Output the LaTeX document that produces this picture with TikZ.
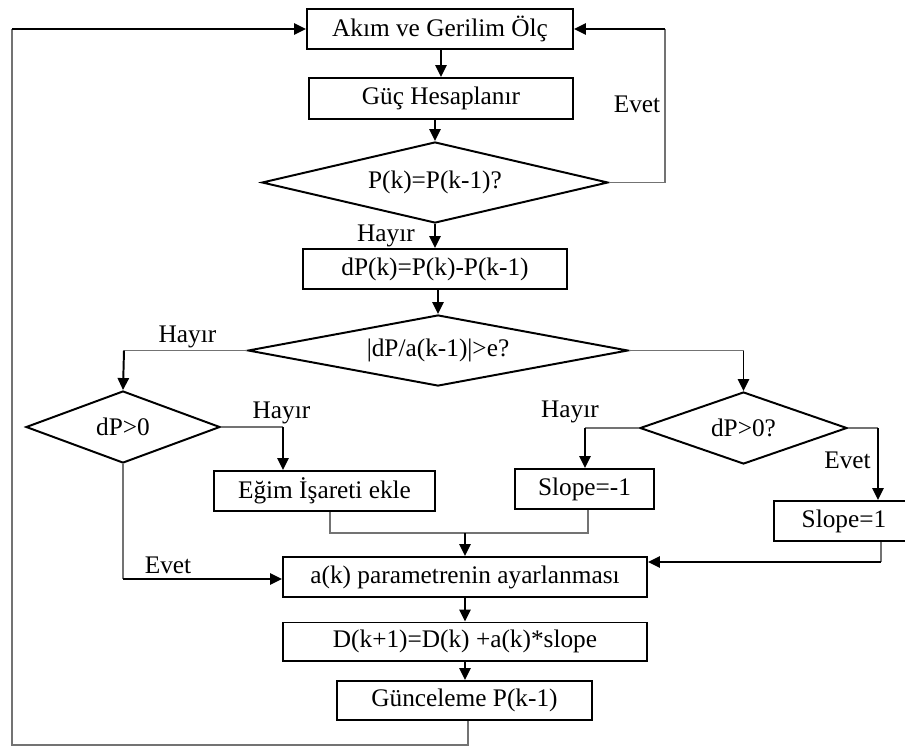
\documentclass[tikz,border=0pt]{standalone}
\usepackage{fontspec}
\setmainfont{Liberation Serif}
\usetikzlibrary{shapes.geometric,arrows.meta}
\newcommand{\flowfont}{\fontsize{18}{20}\selectfont}
\tikzset{
  box/.style={draw, line width=1.4pt, inner sep=0pt, font=\flowfont},
  dia/.style={draw, diamond, line width=1.4pt, inner sep=0pt, font=\flowfont},
  link/.style={draw=black!55, line width=0.8pt},
  arr/.style={draw=black, line width=1.4pt, -{Triangle[length=8.5pt,width=8pt]}},
  lbl/.style={anchor=base, inner sep=0pt, font=\flowfont}
}
\begin{document}
\begin{tikzpicture}[x=0.025cm, y=-0.025cm]
\useasboundingbox (0,0) rectangle (905,751);

% process boxes
\node[box, minimum width=6.65cm, minimum height=1cm]    (b1) at (440,29)    {Akım ve Gerilim Ölç};
\node[box, minimum width=6.6cm,  minimum height=1.025cm](b2) at (441,98.5)  {Güç Hesaplanır};
\node[box, minimum width=6.6cm,  minimum height=1cm]    (b3) at (435,269)   {dP(k)=P(k)-P(k-1)};
\node[box, minimum width=5.525cm,minimum height=1cm]    (eg) at (324.5,491) {Eğim İşareti ekle};
\node[box, minimum width=3.475cm,minimum height=1cm]    (sm) at (584.5,489) {Slope=-1};
\node[box, minimum width=3.5cm,  minimum height=1cm]    (sp) at (844,521)   {Slope=1};
\node[box, minimum width=9.1cm,  minimum height=1cm]    (ak) at (465,577)   {a(k) parametrenin ayarlanması};
\node[box, minimum width=9.1cm,  minimum height=0.95cm] (db) at (465,641.5) {D(k+1)=D(k) +a(k)*slope};
\node[box, minimum width=6.375cm,minimum height=0.975cm](gu) at (464.5,700.5){Günceleme P(k-1)};

% decisions (aspect = width / height)
\node[dia, aspect=4.27, minimum width=8.65cm,  minimum height=2.025cm] (d1) at (435,182.5) {P(k)=P(k-1)?};
\node[dia, aspect=5.35, minimum width=9.5cm,   minimum height=1.775cm] (d2) at (438,350.5) {|dP/a(k-1)|>e?};
\node[dia, aspect=2.69, minimum width=4.85cm,  minimum height=1.8cm]   (d3) at (123,427)   {dP>0};
\node[dia, aspect=2.875,minimum width=5.175cm, minimum height=1.8cm]   (d4) at (743.5,428) {dP>0?};

% bend points
\coordinate (e1) at (665,182.5);
\coordinate (e2) at (665,29);
\coordinate (l1) at (124,350.5);
\coordinate (r1) at (743.5,350.5);
\coordinate (h1) at (283,427);
\coordinate (h2) at (585,428);
\coordinate (v1) at (878,428);
\coordinate (m1) at (330,533);
\coordinate (m2) at (588,533);
\coordinate (mc) at (465,533);
\coordinate (s1) at (881,562);
\coordinate (y1) at (123,579);
\coordinate (g1) at (468,745);
\coordinate (g2) at (12,745);
\coordinate (g3) at (12,29);

% main column
\draw[arr] (b1.south -| b2.north) -- (b2.north);
\draw[arr] (b2.south -| d1.north) -- (d1.north);
\draw[arr] (d1.south) -- (b3.north);
\draw[arr] (b3.south -| d2.north) -- (d2.north);

% Evet loop back to the measurement
\draw[link] (d1.east) -- (e1) -- (e2);
\draw[arr] (e2) -- (b1.east);

% branches of the step-size test
\draw[link] (d2.west) -- (l1);
\draw[arr] (l1) -- (d3.north);
\draw[link] (d2.east) -- (r1);
\draw[arr] (r1) -- (d4.north);

\draw[link] (d3.east) -- (h1);
\draw[arr] (h1) -- (h1 |- eg.north);
\draw[link] (d4.west) -- (h2);
\draw[arr] (h2) -- (h2 |- sm.north);
\draw[link] (d4.east) -- (v1);
\draw[arr] (v1) -- (v1 |- sp.north);

% merging into the parameter update
\draw[link] (m1 |- eg.south) -- (m1) -- (m2) -- (m2 |- sm.south);
\draw[arr] (mc) -- (mc |- ak.north);
\draw[link] (s1 |- sp.south) -- (s1);
\draw[arr] (s1) -- (s1 -| ak.east);
\draw[link] (d3.south) -- (y1);
\draw[arr] (y1) -- (y1 -| ak.west);

\draw[arr] (ak.south) -- (db.north);
\draw[arr] (db.south) -- (db.south |- gu.north);

% feedback to the start
\draw[link] (g1 |- gu.south) -- (g1) -- (g2) -- (g3);
\draw[arr] (g3) -- (b1.west);

% branch labels
\node[lbl] (t1) at (637,112)   {Evet};
\node[lbl] (t2) at (386,241)   {Hayır};
\node[lbl] (t3) at (187.5,342) {Hayır};
\node[lbl] (t4) at (281.5,418) {Hayır};
\node[lbl] (t5) at (570,417)   {Hayır};
\node[lbl] (t6) at (847.5,468) {Evet};
\node[lbl] (t7) at (168,573)   {Evet};
\end{tikzpicture}
\end{document}
